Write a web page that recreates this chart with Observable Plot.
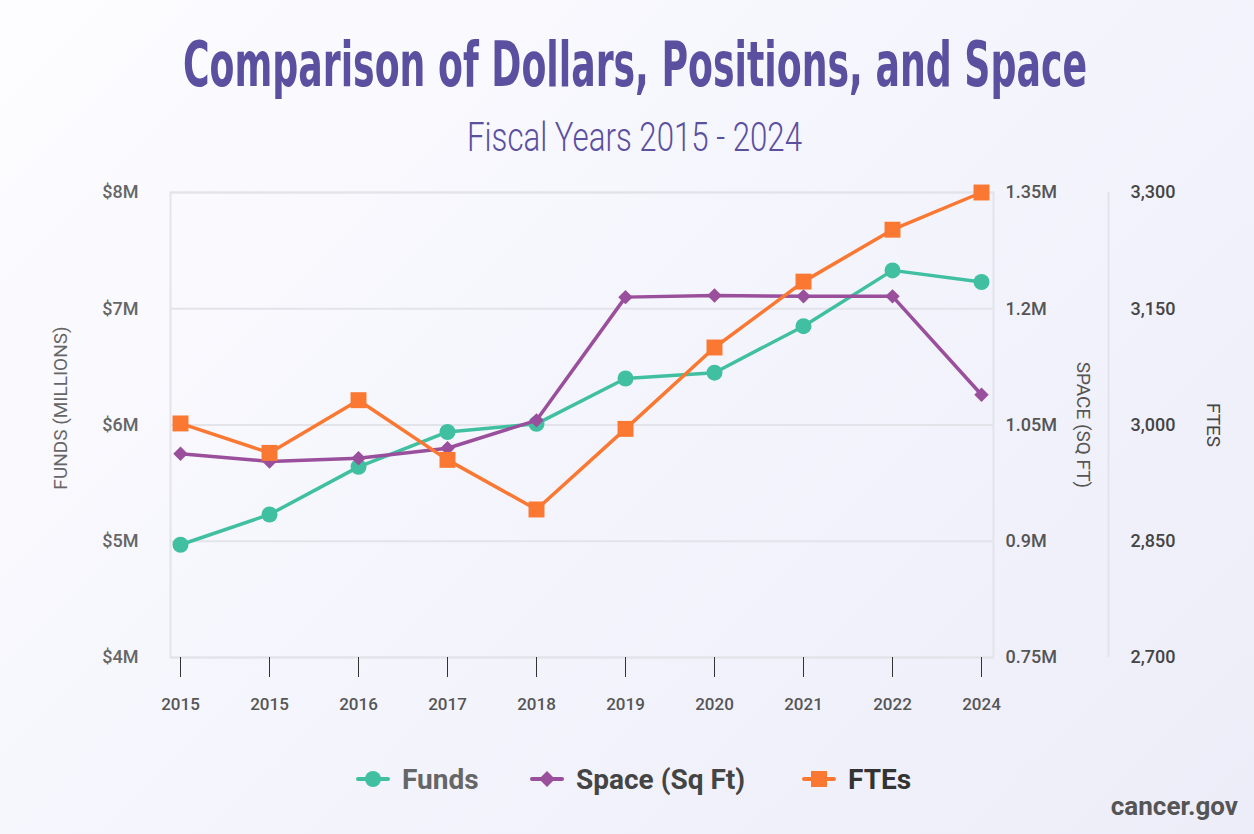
<!DOCTYPE html>
<html><head><meta charset="utf-8">
<script src="https://cdn.jsdelivr.net/npm/d3@7"></script>
<script src="https://cdn.jsdelivr.net/npm/@observablehq/plot@0.6"></script>
<style>
html,body{margin:0;padding:0;background:#fff;}
#wrap{position:relative;width:1254px;height:834px;overflow:hidden;
  background:linear-gradient(135deg,#fdfdff 0%,#f5f5fd 45%,#ededf9 100%);
  font-family:Roboto,"DejaVu Sans",sans-serif;}
.ttl{position:absolute;left:0;white-space:nowrap;color:#5b4f9f;line-height:1;transform-origin:0 0;}
#title{top:34px;font-family:'Liberation Sans Narrow','DejaVu Sans Condensed',Roboto,sans-serif;font-weight:700;font-size:62px;}
#subtitle{top:118px;font-family:Roboto,'DejaVu Sans',sans-serif;font-weight:300;font-size:40px;}
#chart{position:absolute;left:0;top:170px;}
.item{position:absolute;top:762px;height:34px;display:flex;align-items:center;gap:12px;
  font-weight:700;font-size:28px;white-space:nowrap;}
#credit{position:absolute;right:16px;top:791px;font-weight:700;font-size:26px;color:#555;}
</style></head>
<body>
<div id="wrap">
<div id="title" class="ttl">Comparison of Dollars, Positions, and Space</div>
<div id="subtitle" class="ttl">Fiscal Years 2015 - 2024</div>
<div id="chart"></div>
<div id="legendBox"></div>
<div id="credit">cancer.gov</div>
</div>
<script>
const years = ["2015","2015","2016","2017","2018","2019","2020","2021","2022","2024"];
const funds = [4.97,5.23,5.64,5.94,6.01,6.40,6.45,6.85,7.33,7.23];
const space = [1.013,1.003,1.007,1.020,1.056,1.215,1.217,1.216,1.216,1.089];
const ftes  = [3002,2964,3032,2955,2891,2995,3100,3185,3252,3300];
const fundsTicks = [4,5,6,7,8];
const spaceTicks = [0.75,0.9,1.05,1.2,1.35];
const fteTicks   = [2700,2850,3000,3150,3300];
const seriesNames = ["Funds","Space (Sq Ft)","FTEs"];
const seriesColors = ["#40c0a0","#994f9b","#fa7832"];

// fit title / subtitle widths to the reference
function fit(id, left, width){
  const el = document.getElementById(id);
  const w = el.getBoundingClientRect().width;
  el.style.left = left + "px";
  el.style.transform = `scaleX(${width / w})`;
}
fit("title", 183, 904);
fit("subtitle", 467, 335);

const spaceToY = d3.scaleLinear([0.75,1.35],[4,8]);
const fteToY = d3.scaleLinear([2700,3300],[4,8]);
const rows = years.map((y,i)=>({i, year:y, funds:funds[i], space:spaceToY(space[i]), fte:fteToY(ftes[i])}));
const grid = "#e3e3ea";

const chart = Plot.plot({
  width:1254, height:560, marginLeft:170, marginRight:261, marginTop:22, marginBottom:73,
  style:{background:"transparent", fontFamily:"Roboto, 'DejaVu Sans', sans-serif", overflow:"visible"},
  x:{type:"point", domain:d3.range(years.length), padding:0, insetLeft:7, insetRight:10},
  y:{domain:[4,8]},
  marks:[
    Plot.gridY(fundsTicks, {stroke:grid, strokeOpacity:1, strokeWidth:2}),
    Plot.frame({stroke:grid, strokeWidth:2}),
    Plot.ruleX([years.length-1], {y1:4, y2:8, dx:127, stroke:grid, strokeWidth:2}),
    Plot.axisX({tickSize:20, tickPadding:20, tickFormat:i=>years[i], fontSize:17, fontWeight:500, stroke:"#333", fill:"#555", label:null}),
    Plot.axisY(fundsTicks, {anchor:"left", tickSize:0, tickPadding:32, tickFormat:d=>`$${d}M`, fontSize:18, fontWeight:500, fill:"#666", label:null}),
    Plot.axisY(spaceTicks.map(spaceToY), {anchor:"right", tickSize:0, tickPadding:12,
      tickFormat:d=>`${+spaceToY.invert(d).toFixed(2)}M`, fontSize:18, fontWeight:500, fill:"#555", label:null}),
    Plot.axisY(fteTicks.map(fteToY), {anchor:"right", tickSize:0, tickPadding:137,
      tickFormat:d=>d3.format(",")(Math.round(fteToY.invert(d))), fontSize:18, fontWeight:500, fill:"#444", label:null}),
    Plot.text(["FUNDS (MILLIONS)"], {frameAnchor:"left", textAnchor:"middle", rotate:-90, dx:-110, dy:-17, fontSize:19, fill:"#666"}),
    Plot.text(["SPACE (SQ FT)"], {frameAnchor:"right", textAnchor:"middle", rotate:90, dx:90, fontSize:19, fill:"#555"}),
    Plot.text(["FTES"], {frameAnchor:"right", textAnchor:"middle", rotate:90, dx:220, fontSize:19, fill:"#444"}),
    Plot.line(rows, {x:"i", y:"funds", stroke:seriesColors[0], strokeWidth:3.5}),
    Plot.dot(rows, {x:"i", y:"funds", r:8, fill:seriesColors[0], symbol:"circle"}),
    Plot.line(rows, {x:"i", y:"space", stroke:seriesColors[1], strokeWidth:3.5}),
    Plot.dot(rows, {x:"i", y:"space", r:6.5, fill:seriesColors[1], symbol:"diamond2"}),
    Plot.line(rows, {x:"i", y:"fte", stroke:seriesColors[2], strokeWidth:3.5}),
    Plot.dot(rows, {x:"i", y:"fte", r:9, fill:seriesColors[2], symbol:"square"})
  ]
});
document.getElementById("chart").appendChild(chart);

// legend
const legendLefts = [356, 530, 802];
const textColors = ["#666","#444","#333"];
const box = document.getElementById("legendBox");
const shapes = [
  c=>`<circle cx="17" cy="17" r="8" fill="${c}"/>`,
  c=>`<path d="M17 9 L25 17 L17 25 L9 17 Z" fill="${c}"/>`,
  c=>`<rect x="9" y="9" width="16" height="16" fill="${c}"/>`
];
seriesNames.forEach((name,k)=>{
  const d = document.createElement("div");
  d.className = "item";
  d.style.left = legendLefts[k]+"px";
  d.innerHTML = `<svg width="34" height="34"><line x1="2" x2="32" y1="17" y2="17" stroke="${seriesColors[k]}" stroke-width="4" stroke-linecap="round"/>${shapes[k](seriesColors[k])}</svg><span style="color:${textColors[k]}">${name}</span>`;
  box.appendChild(d);
});
</script>
</body></html>
